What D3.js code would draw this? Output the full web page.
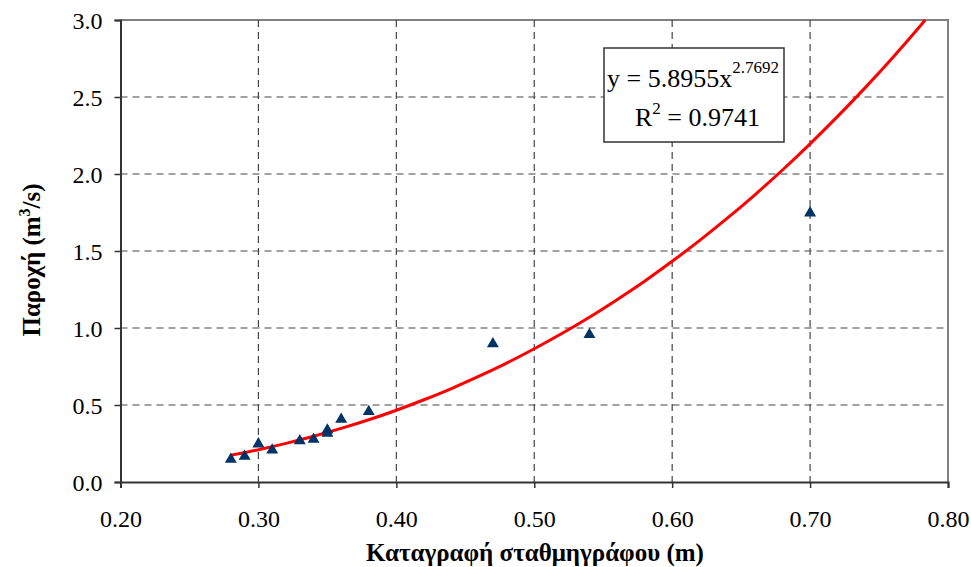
<!DOCTYPE html>
<html>
<head>
<meta charset="utf-8">
<script src="https://cdn.jsdelivr.net/npm/d3@7"></script>
<style>
  html, body { margin: 0; padding: 0; background: #fff; }
  svg { display: block; }
</style>
</head>
<body>
<svg id="chart" width="971" height="567"></svg>
<script>
// Observed data (gauge reading in m, discharge in m3/s)
const gaugeX = [0.28, 0.29, 0.30, 0.31, 0.33, 0.34, 0.35, 0.35, 0.36, 0.38, 0.47, 0.54, 0.70];
const flowY  = [0.15, 0.17, 0.25, 0.21, 0.27, 0.28, 0.34, 0.32, 0.41, 0.46, 0.90, 0.96, 1.75];

// Trend line points
const trendX = [0.28, 0.30, 0.32, 0.34, 0.36, 0.38, 0.40, 0.42, 0.44, 0.46, 0.48, 0.50, 0.52, 0.54, 0.56, 0.58, 0.60, 0.62, 0.64, 0.66, 0.68, 0.70, 0.72, 0.74, 0.76, 0.78, 0.7835];
const trendY = [0.174, 0.210, 0.251, 0.297, 0.348, 0.404, 0.466, 0.534, 0.607, 0.687, 0.772, 0.865, 0.964, 1.070, 1.184, 1.304, 1.433, 1.569, 1.713, 1.865, 2.026, 2.196, 2.374, 2.561, 2.757, 2.963, 3.0];

const xTicks = [0.20, 0.30, 0.40, 0.50, 0.60, 0.70, 0.80];
const yTicks = [0.0, 0.5, 1.0, 1.5, 2.0, 2.5, 3.0];

const xTitle = "Καταγραφή σταθμηγράφου (m)";
const yTitleMain = "Παροχή (m";
const eqText = "y = 5.8955x";
const eqExp = "2.7692";
const r2Value = " = 0.9741";

const FONT = "Liberation Serif";
const svg = d3.select("#chart");
const L = 120.5, R = 948, T = 20, B = 482;

const x = d3.scaleLinear().domain([0.2, 0.8]).range([L, R]);
const y = d3.scaleLinear().domain([0, 3]).range([B, T]);

// plot border (top & right gray)
svg.append("path")
  .attr("d", `M${L},${T}H${R}V${B}`)
  .attr("fill", "none").attr("stroke", "#808080").attr("stroke-width", 2);

// gridlines
const grid = svg.append("g");
grid.selectAll("line.gx").data(xTicks.slice(1, -1)).join("line")
  .attr("x1", d => x(d)).attr("x2", d => x(d)).attr("y1", T).attr("y2", B)
  .attr("stroke", "#444").attr("stroke-width", 1.2).attr("stroke-dasharray", "7,5");
grid.selectAll("line.gy").data(yTicks.slice(1, -1)).join("line")
  .attr("y1", d => y(d)).attr("y2", d => y(d)).attr("x1", L).attr("x2", R)
  .attr("stroke", "#444").attr("stroke-width", 1.2).attr("stroke-dasharray", "7,5");

// axes
const xAxis = d3.axisBottom(x).tickValues(xTicks).tickFormat(d3.format(".2f")).tickSize(6).tickPadding(22);
const yAxis = d3.axisLeft(y).tickValues(yTicks).tickFormat(d3.format(".1f")).tickSize(6).tickPadding(12);

const gx = svg.append("g").attr("transform", `translate(0,${B})`).call(xAxis);
const gy = svg.append("g").attr("transform", `translate(${L},0)`).call(yAxis);
[gx, gy].forEach(g => {
  g.select(".domain").attr("stroke", "#333").attr("stroke-width", 2);
  g.selectAll(".tick line").attr("stroke", "#333").attr("stroke-width", 1.5);
  g.selectAll(".tick text").attr("fill", "#000").attr("font-size", 24);
});
gy.selectAll(".tick text").attr("dy", "0.35em");

// trend line
const line = d3.line().x((d, i) => x(trendX[i])).y((d, i) => y(trendY[i])).curve(d3.curveMonotoneX);
svg.append("path").datum(trendY)
  .attr("d", line)
  .attr("fill", "none").attr("stroke", "#ff0000").attr("stroke-width", 3);

// data markers (triangles)
const tri = d3.symbol().type(d3.symbolTriangle).size(62);
svg.selectAll("path.pt").data(gaugeX).join("path")
  .attr("class", "pt")
  .attr("d", tri)
  .attr("transform", (d, i) => `translate(${x(d)},${y(flowY[i]) + 0.5})`)
  .attr("fill", "#003366");

// equation box
const bx = 604, by = 48, bw = 180, bh = 94;
svg.append("rect").attr("x", bx).attr("y", by).attr("width", bw).attr("height", bh)
  .attr("fill", "#fff").attr("stroke", "#333").attr("stroke-width", 1.5);
const eq = svg.append("text").attr("x", 607).attr("y", 87)
  .attr("font-size", 26).attr("fill", "#000");
eq.append("tspan").text(eqText);
eq.append("tspan").attr("dy", -14).attr("font-size", 17).text(eqExp);

const r2 = svg.append("text").attr("x", 635).attr("y", 126)
  .attr("font-size", 26).attr("fill", "#000");
r2.append("tspan").text("R");
r2.append("tspan").attr("dy", -12).attr("font-size", 17).text("2");
r2.append("tspan").attr("dy", 12).text(r2Value);

// axis titles
svg.append("text")
  .attr("x", 535).attr("y", 561)
  .attr("text-anchor", "middle")
  .attr("font-size", 25).attr("font-weight", "bold")
  .text(xTitle);

const yt = svg.append("text")
  .attr("transform", `translate(40,260) rotate(-90)`)
  .attr("text-anchor", "middle")
  .attr("font-size", 25).attr("font-weight", "bold");
yt.append("tspan").text(yTitleMain);
yt.append("tspan").attr("dy", -10).attr("font-size", 16).text("3");
yt.append("tspan").attr("dy", 10).text("/s)");

// apply serif font directly to every text element
svg.selectAll("g").attr("font-family", FONT);
svg.selectAll("text, tspan").attr("font-family", FONT).style("font-family", FONT);
</script>
</body>
</html>
